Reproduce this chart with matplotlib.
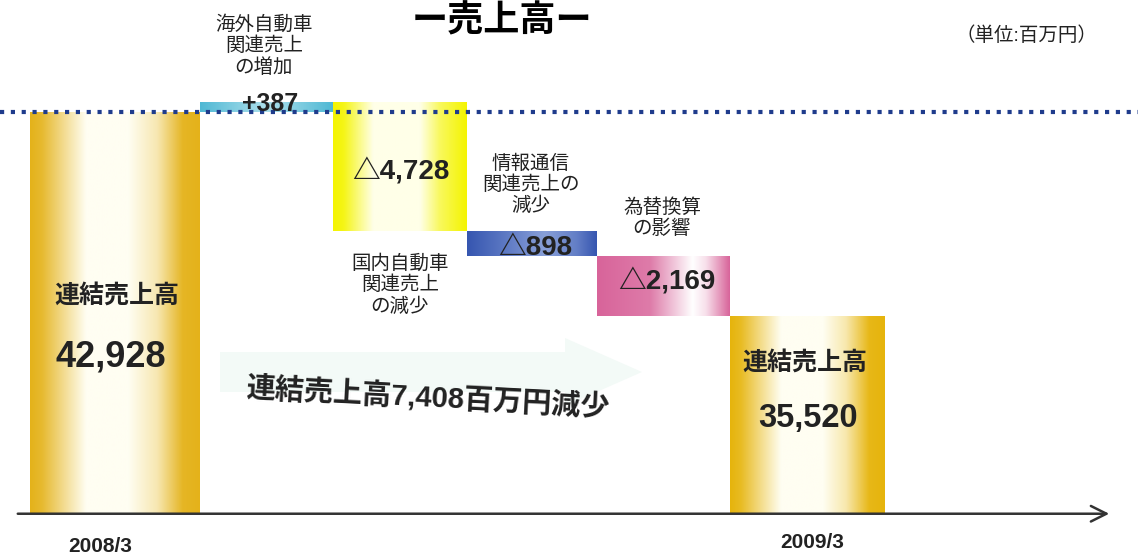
import numpy as np
import matplotlib
matplotlib.use("Agg")
import matplotlib.pyplot as plt
from matplotlib.colors import to_rgb
from matplotlib.patches import Polygon

plt.rcParams['font.family'] = ['Liberation Sans', 'Noto Sans CJK JP', 'DejaVu Sans']

# --- data (百万円) ---
start_total = 42928
end_total = 35520
changes = [387, -4728, -898, -2169]
change_labels = ['+387', '△4,728', '△898', '△2,169']
change_names = ['海外自動車\n関連売上\nの増加', '国内自動車\n関連売上\nの減少',
                '情報通信\n関連売上の\n減少', '為替換算\nの影響']
period_labels = ['2008/3', '2009/3']
total_labels = ['42,928', '35,520']
base = 28300  # axis starts here (truncated)

# --- layout (x in pixel-like units) ---
W, H = 1138, 556
lefts = [30, 200, 333, 467, 597, 730]
widths = [170, 133, 134, 130, 133, 155]
y_top, y_bot = 47016, 26760

fig = plt.figure(figsize=(W / 100, H / 100), dpi=100)
ax = fig.add_axes([0, 0, 1, 1])
ax.set_xlim(0, W)
ax.set_ylim(y_bot, y_top)
ax.axis('off')


def fp(x, y):
    return x / W, 1 - y / H


# waterfall geometry
cum = start_total + np.cumsum([0] + changes)
bottoms = [base] + [min(cum[i], cum[i + 1]) for i in range(len(changes))] + [base]
heights = [start_total - base] + [abs(c) for c in changes] + [end_total - base]

bars = ax.bar(lefts, heights, width=widths, bottom=bottoms, align='edge',
              color='none', edgecolor='none', zorder=2)

styles = [
    ('#E4B21A', '#FFFEF2', [0, 0.07, 0.33, 0.58, 0.75, 0.9, 1], [1, 0.9, 0, 0, 0.3, 0.95, 1]),
    ('#4FB8D4', '#C4EAF2', [0, 0.3, 0.5, 0.7, 1], [1, 0.5, 0.2, 0.5, 1]),
    ('#F4F400', '#FFFFE8', [0, 0.08, 0.3, 0.65, 0.8, 1], [1, 0.9, 0, 0, 0.6, 1]),
    ('#3656B0', '#A4B8E6', [0, 0.25, 0.6, 0.85, 1], [1, 0.7, 0.25, 0.6, 1]),
    ('#D8649A', '#FFFFFF', [0, 0.4, 0.72, 0.82, 1], [1, 0.85, 0, 0.2, 1]),
    ('#E6B40C', '#FFFEF2', [0, 0.07, 0.33, 0.6, 0.75, 0.9, 1], [1, 0.9, 0, 0, 0.3, 0.95, 1]),
]

xs = np.linspace(0, 1, 256)
for bar, (edge, mid, px_, pw) in zip(bars, styles):
    w = np.interp(xs, px_, pw)[:, None]
    e, m = np.array(to_rgb(edge)), np.array(to_rgb(mid))
    img = (m + (e - m) * w)[None, :, :]
    x0, y0 = bar.get_x(), bar.get_y()
    im = ax.imshow(img, extent=[x0, x0 + bar.get_width(), y0, y0 + bar.get_height()],
                   aspect='auto', interpolation='bilinear', zorder=2)
    im.set_clip_path(bar)

# dotted reference line at starting total
ax.axhline(start_total, color='#1F3C8C', lw=3, ls=(0, (1, 1.6)), zorder=3)

# very faint arrow behind decrease text (figure coords)
arrow_px = [(220, 352), (565, 352), (565, 338), (642, 372), (565, 406), (565, 392), (220, 392)]
fig.patches.append(Polygon([fp(x, y) for x, y in arrow_px], closed=True,
                           transform=fig.transFigure, facecolor='#F3FAF7', edgecolor='none',
                           zorder=0))

# axis arrow
ax.annotate('', xy=(1112, base), xytext=(15, base),
            arrowprops=dict(arrowstyle='->', lw=1.8, color='#333333', mutation_scale=28),
            zorder=4)

# texts
fig.text(*fp(502, 22), 'ー売上高ー', fontsize=26, fontweight='bold', ha='center', va='center')
fig.text(*fp(1026, 36), '（単位:百万円）', fontsize=14, ha='center', va='center', color='#222222')

name_pos = [(264, 46), (400, 285), (531, 185), (662, 218)]
for (x, y), t in zip(name_pos, change_names):
    fig.text(*fp(x, y), t, fontsize=14, ha='center', va='center', linespacing=1.2, color='#222222')

val_pos = [(270, 104), (401, 172), (535, 248), (667, 282)]
val_sizes = [18, 20, 20, 20]
for (x, y), t, s in zip(val_pos, change_labels, val_sizes):
    fig.text(*fp(x, y), t, fontsize=s, fontweight='bold', ha='center', va='center', color='#222222',
             zorder=5)

fig.text(*fp(117, 296), '連結売上高', fontsize=18, fontweight='bold', ha='center', va='center',
         color='#222222')
fig.text(*fp(111, 357), total_labels[0], fontsize=26, fontweight='bold', ha='center', va='center',
         color='#222222')
fig.text(*fp(805, 363), '連結売上高', fontsize=18, fontweight='bold', ha='center', va='center',
         color='#222222')
fig.text(*fp(808, 418), total_labels[1], fontsize=23.5, fontweight='bold', ha='center', va='center',
         color='#222222')

fig.text(*fp(428, 398), '連結売上高7,408百万円減少', fontsize=21, fontweight='bold',
         ha='center', va='center', rotation=-3, rotation_mode='anchor', color='#222222')

fig.text(*fp(100, 546), period_labels[0], fontsize=15, fontweight='bold', ha='center', va='center',
         color='#222222')
fig.text(*fp(812, 542), period_labels[1], fontsize=15, fontweight='bold', ha='center', va='center',
         color='#222222')

fig.savefig('out.png', dpi=100, facecolor='white')
